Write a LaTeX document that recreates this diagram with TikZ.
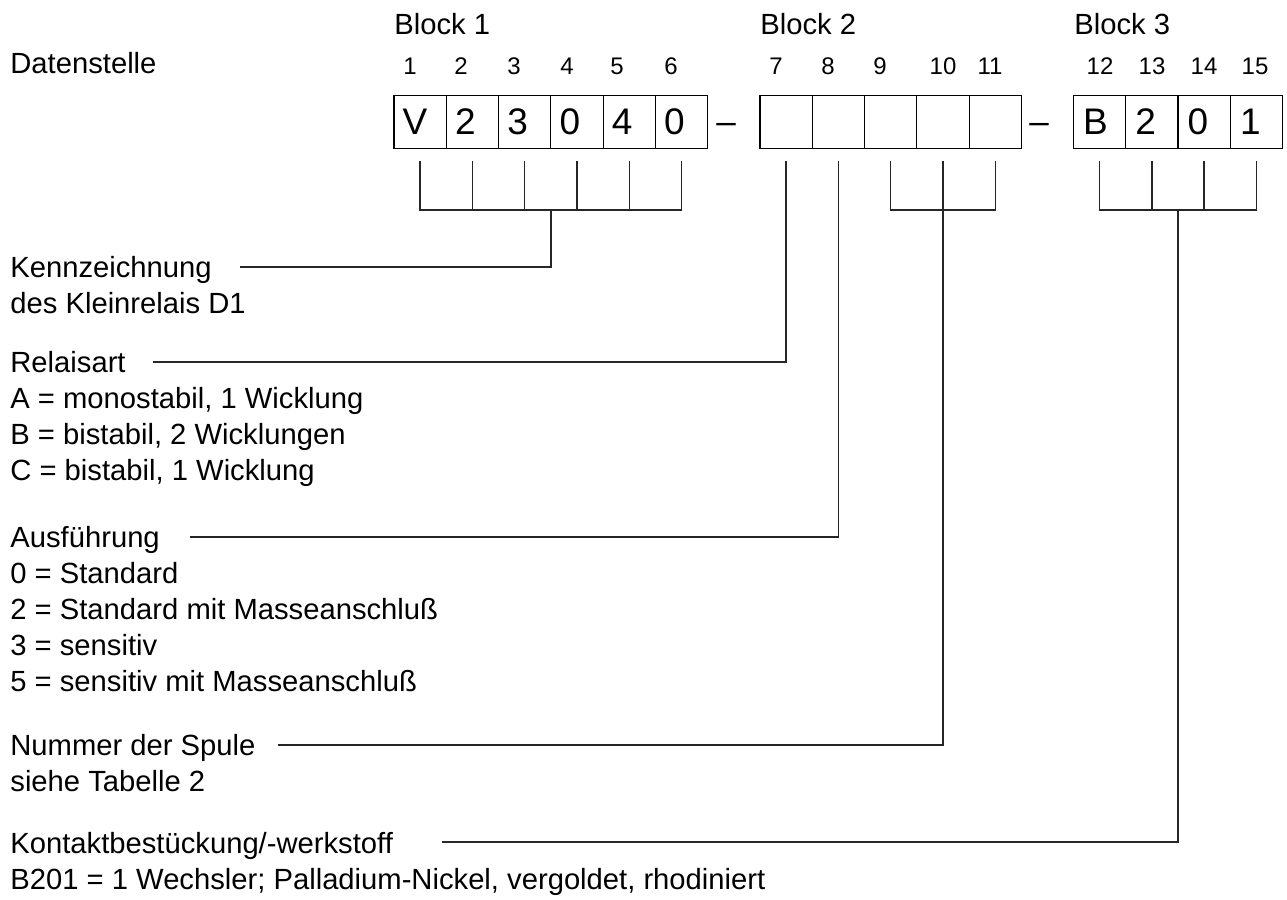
\documentclass[tikz,border=0pt]{standalone}
\usepackage{fontspec}
\setmainfont{Liberation Sans}
\usetikzlibrary{calc}
\begin{document}
\begin{tikzpicture}[x=0.5pt,y=-0.5pt,
  txt/.style={anchor=base west, inner sep=0pt, font=\fontsize{14.6}{17}\selectfont},
  colnum/.style={anchor=base, inner sep=0pt, font=\fontsize{12}{14}\selectfont},
  cell/.style={draw, line width=0.6pt, minimum width=26.15pt, minimum height=26.5pt, inner sep=0pt, anchor=north west},
  celltxt/.style={anchor=base west, inner sep=0pt, font=\fontsize{18.5}{21}\selectfont},
  ln/.style={line width=0.75pt, draw=black!85}]
\useasboundingbox (0,0) rectangle (1287,900);

% header texts
\node[txt] (daten) at (10,73) {Datenstelle};
\node[txt] (b1) at (394,34) {Block 1};
\node[txt] (b2) at (760,34) {Block 2};
\node[txt] (b3) at (1074,34) {Block 3};

% cells block 1
\foreach \i in {1,...,6} {
  \node[cell] (c\i) at ({393.3+(\i-1)*52.3},95) {};
}
\foreach \i/\t in {1/V,2/2,3/3,4/0,5/4,6/0} {
  \node[celltxt] (t\i) at ($(c\i.north west)+(9,39)$) {\t};
}
% cells block 2
\foreach \i in {7,...,11} {
  \node[cell] (c\i) at ({759.3+(\i-7)*52.3},95) {};
}
% cells block 3
\foreach \i in {12,...,15} {
  \node[cell] (c\i) at ({1072.7+(\i-12)*52.3},95) {};
}
\foreach \i/\t in {12/B,13/2,14/0,15/1} {
  \node[celltxt] (t\i) at ($(c\i.north west)+(10,39)$) {\t};
}
% dashes
\node[anchor=base, inner sep=0pt, font=\fontsize{17.5}{20}\selectfont] (d1) at (726,133) {–};
\node[anchor=base, inner sep=0pt, font=\fontsize{17.5}{20}\selectfont] (d2) at (1039,133) {–};

% column numbers
\foreach \i/\x in {1/410,2/461,3/514,4/567,5/617,6/671,7/776,8/828,9/880,10/943,11/990,12/1100,13/1152,14/1204,15/1255} {
  \node[colnum] (n\i) at (\x,74) {\i};
}

% tick start coordinates
\foreach \i in {1,...,15} {
  \coordinate (s\i) at ($(c\i.south)+(0,12)$);
}

% label texts
\node[txt] (kenn) at (10,277) {Kennzeichnung};
\node[txt] (kenn2) at (10,313) {des Kleinrelais D1};
\node[txt] (rel) at (10,372) {Relaisart};
\node[txt] (rel2) at (10,408) {A = monostabil, 1 Wicklung};
\node[txt] (rel3) at (10,444) {B = bistabil, 2 Wicklungen};
\node[txt] (rel4) at (10,480) {C = bistabil, 1 Wicklung};
\node[txt] (aus) at (10,547) {Ausführung};
\node[txt] (aus2) at (10,583) {0 = Standard};
\node[txt] (aus3) at (10,619) {2 = Standard mit Masseanschluß};
\node[txt] (aus4) at (10,655) {3 = sensitiv};
\node[txt] (aus5) at (10,691) {5 = sensitiv mit Masseanschluß};
\node[txt] (num) at (10,755) {Nummer der Spule};
\node[txt] (num2) at (10,791) {siehe Tabelle 2};
\node[txt] (kon) at (10,853) {Kontaktbestückung/-werkstoff};
\node[txt] (kon2) at (10,889) {B201 = 1 Wechsler; Palladium-Nickel, vergoldet, rhodiniert};

% line start coordinates
\coordinate (lk) at (240,267);
\coordinate (lr) at (153,362);
\coordinate (la) at (190,537);
\coordinate (ln) at (278,745);
\coordinate (lc) at (442,842);

% block 1 bracket
\draw[ln] (s1) -- ++(0,49) -| (s6);
\foreach \i in {2,...,5} { \draw[ln] (s\i) -- ++(0,49); }
\coordinate (m1) at ($(s3)!0.5!(s4)+(0,49)$);
\draw[ln] (m1) |- (lk);

% block 2
\draw[ln] (s7) |- (lr);
\draw[ln] (s8) |- (la);
\draw[ln] (s9) -- ++(0,49) -| (s11);
\draw[ln] (s10) |- (ln);

% block 3 bracket
\draw[ln] (s12) -- ++(0,49) -| (s15);
\foreach \i in {13,14} { \draw[ln] (s\i) -- ++(0,49); }
\coordinate (m3) at ($(s13)!0.5!(s14)+(0,49)$);
\draw[ln] (m3) |- (lc);
\end{tikzpicture}
\end{document}
